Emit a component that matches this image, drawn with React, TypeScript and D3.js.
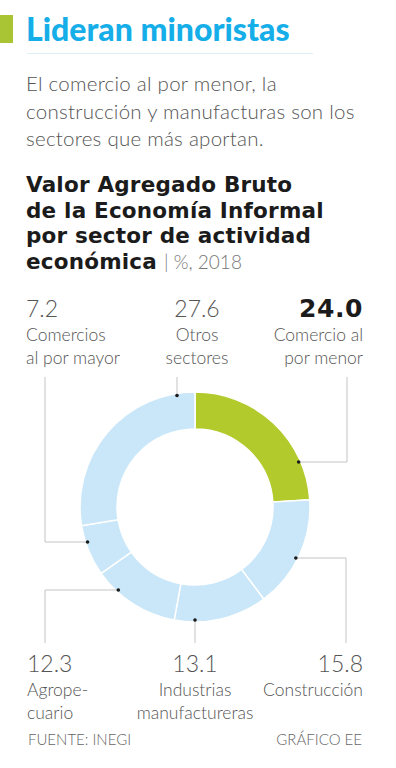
import React, { useEffect, useRef } from 'react';
import * as d3 from 'd3';

// Valor Agregado Bruto de la Economía Informal, %, 2018 (clockwise from 12 o'clock)
const sectors = ['Comercio al por menor', 'Construcción', 'Industrias manufactureras', 'Agropecuario', 'Comercios al por mayor', 'Otros sectores'];
const values = [24.0, 15.8, 13.1, 12.3, 7.2, 27.6];
const labelLines = [
  ['Comercio al', 'por menor'],
  ['Construcción'],
  ['Industrias', 'manufactureras'],
  ['Agrope-', 'cuario'],
  ['Comercios', 'al por mayor'],
  ['Otros', 'sectores'],
];
const highlight = 'Comercio al por menor';

// label placement + leader routing (layout only)
// kind 'h': dot found on horizontal line y=at, 'v': on vertical line x=at
const leaders = [
  { x: 363, row: 'top', anchor: 'end', kind: 'h', at: 462, side: 1, elbowX: 347 },
  { x: 363, row: 'bottom', anchor: 'end', kind: 'h', at: 558, side: 1, elbowX: 346 },
  { x: 195, row: 'bottom', anchor: 'middle', kind: 'v', at: 195, side: 1, elbowX: 195 },
  { x: 27, row: 'bottom', anchor: 'start', kind: 'h', at: 590, side: -1, elbowX: 45 },
  { x: 26, row: 'top', anchor: 'start', kind: 'h', at: 542, side: -1, elbowX: 45 },
  { x: 197, row: 'top', anchor: 'middle', kind: 'v', at: 177, side: -1, elbowX: 177 },
];

const W = 396;
const H = 768;
const LIGHT = "'Lato', 'Open Sans', sans-serif";
const BOLD = "'Lato', sans-serif";
const HEAVY = "'DejaVu Sans', sans-serif";

export default function App() {
  const ref = useRef<SVGSVGElement>(null);

  useEffect(() => {
    if (!ref.current) return;
    const svg = d3.select(ref.current);
    svg.selectAll('*').remove();

    // header
    svg.append('rect').attr('x', 0).attr('y', 15).attr('width', 13).attr('height', 28).attr('fill', '#a9c533');
    svg.append('text').attr('x', 26).attr('y', 41)
      .style('font-family', BOLD).style('font-weight', 900).style('font-size', '32px')
      .attr('fill', '#16aee8').text('Lideran minoristas');
    svg.append('line').attr('x1', 27).attr('x2', 313).attr('y1', 53.5).attr('y2', 53.5)
      .attr('stroke', '#dcf0f8').attr('stroke-width', 1);

    const sub = ['El comercio al por menor, la', 'construcción y manufacturas son los', 'sectores que más aportan.'];
    svg.append('g').selectAll('text').data(sub).join('text')
      .attr('x', 26).attr('y', (d, i) => 91 + i * 27.5)
      .style('font-family', LIGHT).style('font-weight', 300).style('font-size', '20.5px')
      .style('letter-spacing', '0.25px')
      .attr('fill', '#555').text(d => d);

    const title = ['Valor Agregado Bruto', 'de la Economía Informal', 'por sector de actividad', 'económica'];
    const tg = svg.append('g');
    const tt = tg.selectAll('text').data(title).join('text')
      .attr('x', 26).attr('y', (d, i) => 192 + i * 25.5)
      .style('font-family', HEAVY).style('font-weight', 700).style('font-size', '21.5px')
      .style('letter-spacing', '0.2px')
      .attr('fill', '#1b1b1b').text(d => d);
    const lastW = (tt.nodes()[3] as SVGTextElement).getComputedTextLength();
    tg.append('text').attr('x', 26 + lastW + 7).attr('y', 268.5)
      .style('font-family', LIGHT).style('font-weight', 300).style('font-size', '19px')
      .attr('fill', '#777').text('| %, 2018');

    // donut
    const cx = 195;
    const cy = 507;
    const rOuter = 115;
    const rInner = 78;
    const rDot = 113;

    const pie = d3.pie<number>().sort(null).value(d => d);
    const arcs = pie(values);
    const arc = d3.arc<d3.PieArcDatum<number>>().innerRadius(rInner).outerRadius(rOuter);

    const g = svg.append('g').attr('transform', `translate(${cx},${cy})`);
    g.selectAll('path').data(arcs).join('path')
      .attr('d', arc)
      .attr('fill', (d, i) => sectors[i] === highlight ? '#b2ca2c' : '#c9e7f8')
      .attr('stroke', '#fff').attr('stroke-width', 1.5);

    // leaders
    const topLineY = 377;
    const bottomLineY = 643;
    leaders.forEach((L, i) => {
      let dx: number, dy: number;
      if (L.kind === 'h') {
        dy = L.at - cy;
        dx = L.side * Math.sqrt(rDot * rDot - dy * dy);
      } else {
        dx = L.at - cx;
        dy = L.side * Math.sqrt(rDot * rDot - dx * dx);
      }
      const px = cx + dx;
      const py = cy + dy;
      const endY = L.row === 'top' ? topLineY : bottomLineY;
      const path = d3.path();
      path.moveTo(px, py);
      if (L.kind === 'h') path.lineTo(L.elbowX, py);
      path.lineTo(L.elbowX, endY);
      svg.append('path').attr('d', path.toString()).attr('fill', 'none')
        .attr('stroke', '#c4c4c4').attr('stroke-width', 1);
      svg.append('circle').attr('cx', px).attr('cy', py).attr('r', 1.8).attr('fill', '#1a1a1a');

      const baseY = L.row === 'top' ? 317 : 672;
      const isHi = sectors[i] === highlight;
      svg.append('text').attr('x', L.x).attr('y', baseY).attr('text-anchor', L.anchor)
        .style('font-family', isHi ? HEAVY : LIGHT).style('font-weight', isHi ? 700 : 300)
        .style('font-size', isHi ? '25px' : '23px')
        .style('letter-spacing', isHi ? '0.6px' : '0px')
        .attr('fill', isHi ? '#1b1b1b' : '#555')
        .text(d3.format('.1f')(values[i]));
      labelLines[i].forEach((ln, j) => {
        svg.append('text').attr('x', L.x).attr('y', baseY + 24 + j * 23).attr('text-anchor', L.anchor)
          .style('font-family', LIGHT).style('font-weight', 300).style('font-size', '17.5px')
          .attr('fill', '#555').text(ln);
      });
    });

    // footer
    svg.append('text').attr('x', 28).attr('y', 745)
      .style('font-family', LIGHT).style('font-weight', 300).style('font-size', '15px')
      .attr('fill', '#666').text('FUENTE: INEGI');
    svg.append('text').attr('x', 362).attr('y', 745).attr('text-anchor', 'end')
      .style('font-family', LIGHT).style('font-weight', 300).style('font-size', '15px')
      .attr('fill', '#666').text('GRÁFICO EE');
  }, []);

  return (
    <div style={{ position: 'absolute', left: 0, top: 0, background: '#fff' }}>
      <svg ref={ref} width={W} height={H} style={{ display: 'block' }} />
    </div>
  );
}
